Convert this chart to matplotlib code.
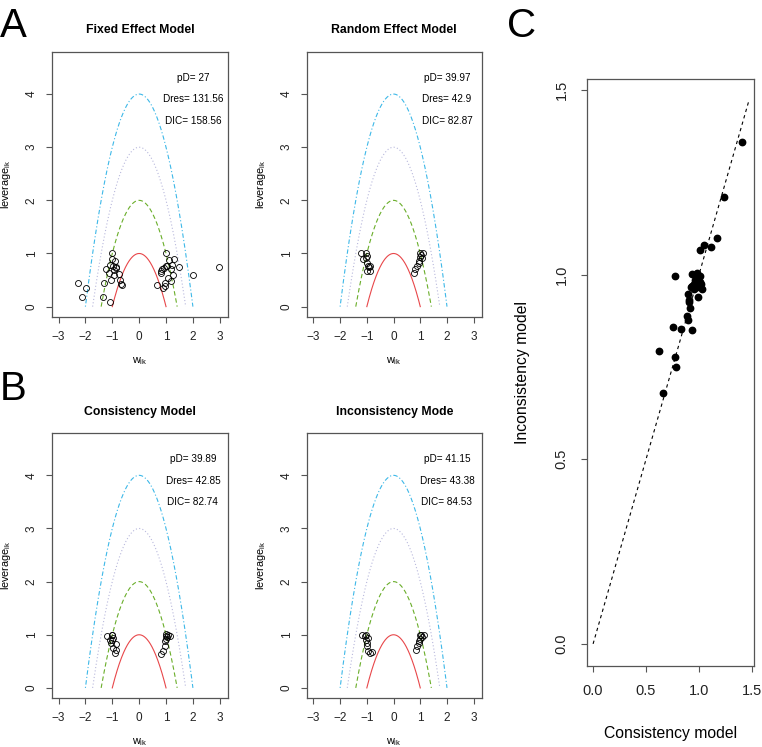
import matplotlib
matplotlib.use("Agg")
import matplotlib.pyplot as plt
import numpy as np

plt.rcParams['font.family'] = ['Liberation Sans', 'DejaVu Sans']
plt.rcParams['mathtext.default'] = 'regular'
plt.rcParams['axes.unicode_minus'] = True

# leverage plots: w_ik (x) vs leverage_ik (y)
fixed_w = [-2.27, -2.14, -1.96, -1.34, -1.30, -1.25, -1.14, -1.10, -1.00, -1.00,
           -0.98, -0.91, -0.88, -0.85, -0.94, -1.04, -1.07, -0.76, -0.73, -0.65,
           -0.66, -0.95, 0.68, 0.81, 0.85, 0.88, 0.97, 0.97, 1.01, 1.01, 1.07,
           1.11, 1.19, 1.20, 1.24, 1.26, 1.29, 1.47, 2.01, 2.96, 0.93, 1.05, 0.83]
fixed_lev = [0.45, 0.19, 0.35, 0.19, 0.44, 0.70, 0.63, 0.79, 1.00, 0.90,
             0.76, 0.86, 0.73, 0.75, 0.60, 0.50, 0.09, 0.61, 0.51, 0.41,
             0.43, 0.68, 0.41, 0.64, 0.70, 0.35, 0.45, 0.39, 1.00, 0.76, 0.54,
             0.87, 0.70, 0.49, 0.79, 0.60, 0.90, 0.75, 0.60, 0.75, 0.72, 0.76, 0.67]

random_w = [-1.21, -1.13, -1.03, -1.03, -1.00, -0.97, -0.93, -0.99, -0.87, -0.90, -1.01,
            0.78, 0.82, 0.88, 0.94, 0.99, 1.00, 1.06, 1.10, 0.97, 1.02]
random_lev = [1.00, 0.89, 1.00, 0.92, 0.83, 0.77, 0.74, 0.67, 0.76, 0.67, 0.96,
              0.64, 0.70, 0.76, 0.85, 0.94, 1.00, 0.92, 1.00, 0.82, 0.97]

cons_w = [-1.20, -1.07, -1.00, -1.04, -0.98, -0.91, -0.85, -0.88, -0.97, -1.02, -1.01,
          0.83, 0.89, 0.95, 0.97, 1.01, 1.07, 1.16, 1.00, 0.99, 1.04]
cons_lev = [0.97, 0.91, 0.99, 0.85, 0.75, 0.66, 0.72, 0.82, 0.94, 1.00, 0.90,
            0.63, 0.69, 0.78, 0.88, 0.97, 1.00, 0.97, 0.92, 1.02, 0.95]

incons_w = [-1.18, -1.05, -1.03, -1.00, -0.97, -0.90, -0.82, -0.99, -1.02, -0.95,
            0.84, 0.89, 0.94, 0.99, 1.03, 1.13, 0.95, 1.05, 1.00]
incons_lev = [0.99, 0.97, 0.90, 0.78, 0.69, 0.66, 0.67, 0.85, 1.00, 0.93,
              0.72, 0.78, 0.85, 0.92, 0.99, 0.99, 0.88, 0.96, 1.00]

titles = ["Fixed Effect Model", "Random Effect Model", "Consistency Model", "Inconsistency Mode"]
pd_vals = ["27", "39.97", "39.89", "41.15"]
dres_vals = ["131.56", "42.9", "42.85", "43.38"]
dic_vals = ["158.56", "82.87", "82.74", "84.53"]

# panel C: per-point residual deviance, consistency vs inconsistency
cons_dev = [1.408, 1.235, 1.166, 1.115, 1.043, 1.014, 0.772, 0.936, 0.980, 1.005,
            0.964, 0.933, 0.977, 1.033, 0.990, 0.923, 0.895, 0.901, 0.917, 0.885,
            0.892, 0.753, 0.829, 0.936, 0.621, 0.772, 0.781, 0.662, 0.955, 1.010,
            0.910, 0.960, 0.990, 0.950, 1.020]
incons_dev = [1.358, 1.209, 1.100, 1.076, 1.079, 1.066, 0.995, 1.002, 1.005, 0.995,
              0.986, 0.970, 0.967, 0.961, 0.940, 0.967, 0.948, 0.925, 0.909, 0.889,
              0.878, 0.859, 0.854, 0.850, 0.793, 0.778, 0.749, 0.679, 0.975, 0.980,
              0.930, 1.000, 0.985, 0.960, 0.975]

curve_styles = [
    (1, '#E8474A', '-'),
    (2, '#6AAE2A', (0, (4, 2.5))),
    (3, '#B8B8DC', (0, (1, 2))),
    (4, '#3DB8E8', (0, (1, 2, 4, 2))),
]

spine_col = '#555555'

fig = plt.figure(figsize=(7.62, 7.47), dpi=100)

boxes = [
    (0.068, 0.576, 0.231, 0.355),
    (0.4025, 0.576, 0.2297, 0.355),
    (0.068, 0.0656, 0.231, 0.355),
    (0.4025, 0.0656, 0.2297, 0.355),
]
panel_data = [(fixed_w, fixed_lev), (random_w, random_lev), (cons_w, cons_lev), (incons_w, incons_lev)]


def style_axes(ax, fs, pad):
    for s in ax.spines.values():
        s.set_color(spine_col)
        s.set_linewidth(0.9)
    ax.tick_params(direction='out', length=4, width=0.8, color=spine_col,
                   labelsize=fs, labelcolor='#222222', pad=pad)
    ax.tick_params(axis='y', labelrotation=90)
    for lab in ax.get_yticklabels():
        lab.set_va('center')


for i in range(4):
    ax = fig.add_axes(boxes[i])
    for c, col, ls in curve_styles:
        xs = np.linspace(-np.sqrt(c), np.sqrt(c), 200)
        ax.plot(xs, c - xs ** 2, color=col, linestyle=ls, linewidth=0.8)
    w, lev = panel_data[i]
    ax.plot(w, lev, 'o', markerfacecolor='none', markeredgecolor='black',
            markersize=4.3, markeredgewidth=0.6)
    ax.set_xlim(-3.25, 3.3)
    ax.set_ylim(-0.19, 4.8)
    ax.set_xticks([-3, -2, -1, 0, 1, 2, 3])
    ax.set_yticks([0, 1, 2, 3, 4])
    style_axes(ax, 8.5, 6)
    ax.set_title(titles[i], fontsize=8.8, fontweight='bold', pad=13)
    ax.set_xlabel(r'$w_{ik}$', fontsize=7.8, labelpad=9)
    ax.set_ylabel(r'$leverage_{ik}$', fontsize=7.8, labelpad=9)
    ax.text(2.0, 4.3, "pD= " + pd_vals[i], fontsize=7.2, ha='center', va='center')
    ax.text(2.0, 3.9, "Dres= " + dres_vals[i], fontsize=7.2, ha='center', va='center')
    ax.text(2.0, 3.5, "DIC= " + dic_vals[i], fontsize=7.2, ha='center', va='center')

axc = fig.add_axes((0.770, 0.1084, 0.2196, 0.786))
axc.plot([0, 1.47], [0, 1.47], color='black', linestyle=(0, (3, 3)), linewidth=0.8)
axc.plot(cons_dev, incons_dev, 'o', color='black', markersize=4.6)
axc.set_xlim(-0.06, 1.52)
axc.set_ylim(-0.06, 1.53)
axc.set_xticks([0.0, 0.5, 1.0, 1.5])
axc.set_yticks([0.0, 0.5, 1.0, 1.5])
style_axes(axc, 10.5, 9)
axc.set_xlabel("Consistency model", fontsize=11.3, labelpad=20)
axc.set_ylabel("Inconsistency model", fontsize=11.3, labelpad=18)

fig.text(0.0, 0.99, "A", fontsize=29, va='top', ha='left')
fig.text(0.0, 0.505, "B", fontsize=29, va='top', ha='left')
fig.text(0.665, 0.99, "C", fontsize=29, va='top', ha='left')

fig.savefig("out.png", dpi=100)
